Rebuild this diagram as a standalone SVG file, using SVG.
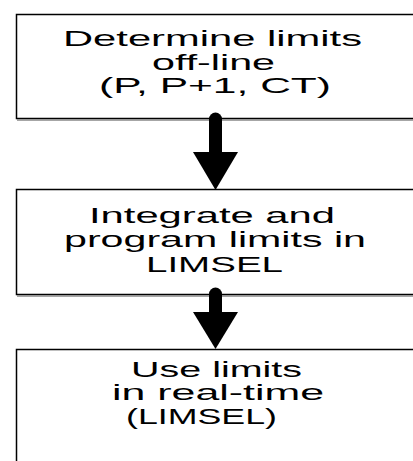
<svg xmlns="http://www.w3.org/2000/svg" width="413" height="461" viewBox="0 0 413 461">
<style>
.box{fill:#fff;stroke:#000;stroke-width:1.5}
.shadow{stroke:#888;stroke-width:1.5}
.t{font-family:"Liberation Sans",Arial,sans-serif;font-size:22px;fill:#000}
.shaft{stroke:#000;stroke-width:13;stroke-linecap:round}
.head{fill:#000}
</style>
<rect width="413" height="461" fill="#fff"/>
<g id="node1">
<rect class="box" x="16.5" y="14.5" width="420" height="104"/>
<line class="shadow" x1="17" y1="120" x2="413" y2="120"/>
<text class="t" x="63" y="46" textLength="299" lengthAdjust="spacingAndGlyphs">Determine limits</text>
<text class="t" x="152" y="69.5" textLength="123" lengthAdjust="spacingAndGlyphs">off-line</text>
<text class="t" x="99" y="93" textLength="232" lengthAdjust="spacingAndGlyphs">(P, P+1, CT)</text>
</g>
<g id="node2">
<rect class="box" x="16.5" y="189.5" width="420" height="105"/>
<line class="shadow" x1="17" y1="296" x2="413" y2="296"/>
<text class="t" x="89" y="223" textLength="246" lengthAdjust="spacingAndGlyphs">Integrate and</text>
<text class="t" x="64" y="247" textLength="302" lengthAdjust="spacingAndGlyphs">program limits in</text>
<text class="t" x="146" y="272" textLength="137" lengthAdjust="spacingAndGlyphs">LIMSEL</text>
</g>
<g id="node3">
<rect class="box" x="16.5" y="349.5" width="420" height="130"/>
<text class="t" x="131" y="377" textLength="171" lengthAdjust="spacingAndGlyphs">Use limits</text>
<text class="t" x="112" y="400" textLength="212" lengthAdjust="spacingAndGlyphs">in real-time</text>
<text class="t" x="126" y="424" textLength="151" lengthAdjust="spacingAndGlyphs">(LIMSEL)</text>
</g>
<g id="connectors">
<line class="shaft" x1="215.5" y1="119" x2="215.5" y2="153"/>
<polygon class="head" points="193,152 238,152 215.5,190"/>
<line class="shaft" x1="215.5" y1="294" x2="215.5" y2="313"/>
<polygon class="head" points="193,312 238,312 215.5,349"/>
</g>
</svg>
